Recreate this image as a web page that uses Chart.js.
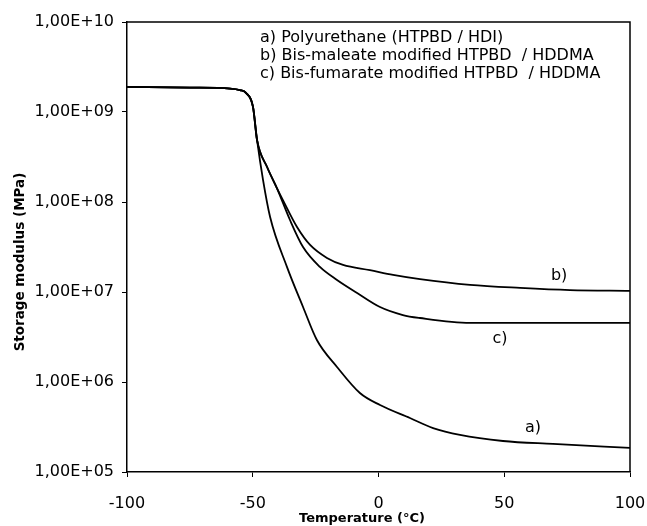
<!DOCTYPE html>
<html>
<head>
<meta charset="utf-8">
<script src="https://cdn.jsdelivr.net/npm/chart.js"></script>
<style>
  html, body { margin: 0; padding: 0; background: #fff; }
  canvas { display: block; }
</style>
</head>
<body>
<canvas id="dmaChart" width="647" height="526"></canvas>
<script>
// temperature (°C) and storage modulus values
const tempA = [-100, -75, -59, -55.1, -52.7, -49.9, -48.3, -45.9, -43.1, -36.4, -30.0, -24.5, -16.5, -7.4, 0.6, 12.5, 21.7, 32.4, 49.5, 69.4, 100];
const modA = [1.90e9, 1.87e9, 1.82e9, 1.75e9, 1.63e9, 1.14e9, 4.89e8, 1.75e8, 6.81e7, 1.90e7, 6.81e6, 2.93e6, 1.47e6, 7.55e5, 5.55e5, 3.98e5, 3.08e5, 2.58e5, 2.21e5, 2.05e5, 1.85e5];

const tempB = [-100, -75, -59, -55.1, -52.7, -49.9, -48.3, -44.3, -40.4, -38.0, -32.4, -27.2, -20.5, -14.1, -3.4, 5.8, 16.5, 36.4, 56.3, 76.1, 100];
const modB = [1.90e9, 1.87e9, 1.82e9, 1.75e9, 1.63e9, 1.14e9, 4.89e8, 2.45e8, 1.43e8, 1.05e8, 5.27e7, 3.33e7, 2.39e7, 2.0e7, 1.75e7, 1.55e7, 1.39e7, 1.20e7, 1.11e7, 1.05e7, 1.03e7];

const tempC = [-100, -75, -59, -55.1, -52.7, -49.9, -48.3, -44.3, -40.4, -35.2, -30.0, -23.3, -16.5, -8.5, 0.6, 9.7, 16.5, 36.4, 100];
const modC = [1.90e9, 1.87e9, 1.82e9, 1.75e9, 1.63e9, 1.14e9, 4.89e8, 2.45e8, 1.43e8, 6.31e7, 3.16e7, 1.90e7, 1.36e7, 9.75e6, 6.81e6, 5.55e6, 5.14e6, 4.53e6, 4.53e6];

const legendLines = [
    'a) Polyurethane (HTPBD / HDI)',
    'b) Bis-maleate modified HTPBD  / HDDMA',
    'c) Bis-fumarate modified HTPBD  / HDDMA'
];
// curve tags and where they sit (temperature, modulus)
const curveLabels = ['a)', 'b)', 'c)'];
const labelTemps = [61.4, 71.8, 48.3];
const labelMods = [3.08e5, 1.51e7, 3.0e6];

const xTicks = [-100, -50, 0, 50, 100];
const yTicks = [1e5, 1e6, 1e7, 1e8, 1e9, 1e10];
const yTickLabels = ['1,00E+05', '1,00E+06', '1,00E+07', '1,00E+08', '1,00E+09', '1,00E+10'];

const FONT = "'DejaVu Sans', sans-serif";

function toPoints(xs, ys) {
    return xs.map((x, i) => ({ x: x, y: ys[i] }));
}

function makeSet(label, xs, ys) {
    return {
        label: label,
        data: toPoints(xs, ys),
        borderColor: '#000',
        borderWidth: 1.8,
        pointRadius: 0,
        fill: false,
        cubicInterpolationMode: 'monotone'
    };
}

// frame, axis titles, legend text and the a) b) c) tags
const decorations = {
    id: 'decorations',
    afterDraw(chart) {
        const ctx = chart.ctx;
        const area = chart.chartArea;
        const xs = chart.scales.x;
        const ys = chart.scales.y;

        ctx.save();
        ctx.strokeStyle = '#000';
        ctx.lineWidth = 1.5;
        ctx.beginPath();
        ctx.moveTo(area.left, area.top);
        ctx.lineTo(area.right, area.top);
        ctx.lineTo(area.right, area.bottom);
        ctx.stroke();

        ctx.fillStyle = '#000';

        // legend (plain text, no swatches)
        ctx.font = '16px ' + FONT;
        ctx.textAlign = 'left';
        ctx.textBaseline = 'middle';
        legendLines.forEach((txt, i) => {
            ctx.fillText(txt, 260, 38 + i * 18);
        });

        // tags next to the curves
        ctx.textAlign = 'center';
        curveLabels.forEach((txt, i) => {
            ctx.fillText(txt, xs.getPixelForValue(labelTemps[i]), ys.getPixelForValue(labelMods[i]));
        });

        // axis titles
        ctx.font = 'bold 13px ' + FONT;
        ctx.fillText('Temperature (°C)', 362, 519);

        ctx.font = 'bold 13.5px ' + FONT;
        ctx.translate(20, 262);
        ctx.rotate(-Math.PI / 2);
        ctx.fillText('Storage modulus (MPa)', 0, 0);
        ctx.restore();
    }
};

new Chart(document.getElementById('dmaChart'), {
    type: 'line',
    data: {
        datasets: [
            makeSet('a', tempA, modA),
            makeSet('b', tempB, modB),
            makeSet('c', tempC, modC)
        ]
    },
    options: {
        responsive: false,
        animation: false,
        devicePixelRatio: 1,
        layout: { padding: { top: 22, right: 17, left: 0, bottom: 0 } },
        plugins: {
            legend: { display: false },
            tooltip: { enabled: false }
        },
        scales: {
            x: {
                type: 'linear',
                min: -100,
                max: 100,
                afterBuildTicks: (scale) => {
                    scale.ticks = xTicks.map(v => ({ value: v }));
                },
                afterFit: (scale) => {
                    scale.height = 54;
                    scale.paddingLeft = 0;
                    scale.paddingRight = 0;
                },
                ticks: {
                    color: '#000',
                    font: { family: FONT, size: 16 },
                    padding: 17,
                    maxRotation: 0
                },
                grid: {
                    drawOnChartArea: false,
                    tickLength: 5,
                    tickColor: '#000'
                },
                border: { color: '#000', width: 1.5 }
            },
            y: {
                type: 'logarithmic',
                min: 1e5,
                max: 1e10,
                afterBuildTicks: (scale) => {
                    scale.ticks = yTicks.map(v => ({ value: v }));
                },
                afterFit: (scale) => {
                    scale.width = 127;
                    scale.paddingTop = 0;
                    scale.paddingBottom = 0;
                },
                ticks: {
                    color: '#000',
                    font: { family: FONT, size: 16 },
                    padding: 8,
                    callback: (value) => {
                        const i = yTicks.indexOf(value);
                        return i >= 0 ? yTickLabels[i] : '';
                    }
                },
                grid: {
                    drawOnChartArea: false,
                    tickLength: 5,
                    tickColor: '#000'
                },
                border: { color: '#000', width: 1.5 }
            }
        }
    },
    plugins: [decorations]
});
</script>
</body>
</html>
